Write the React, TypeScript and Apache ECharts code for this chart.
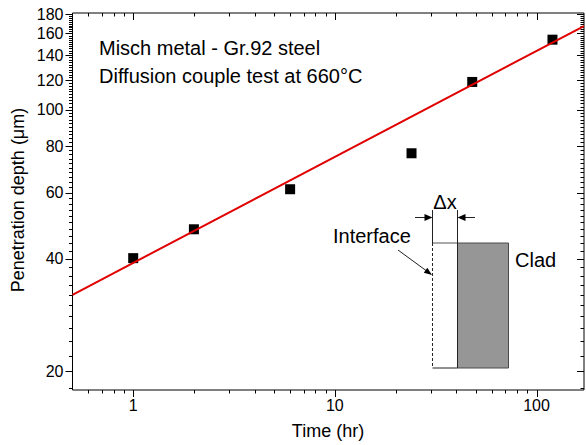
import { useEffect, useRef } from "react";
import * as echarts from "echarts";

// ---- data ----
const timeHr = [1, 2, 6, 24, 48, 120];
const depthUm = [40.1, 47.9, 61.3, 76.5, 118.7, 154];
const fitTime = [0.5, 172];
const fitDepth = [32, 167.5];

// ---- axis specs ----
const xRange = [0.5, 172];
const yRange = [17.8, 181.5];
const xMajorTicks = [1, 10, 100];
const xMajorLabels = ["1", "10", "100"];
const xMinorTicks = [0.6, 0.7, 0.8, 0.9, 2, 3, 4, 5, 6, 7, 8, 9, 20, 30, 40, 50, 60, 70, 80, 90];
const yMajorTicks = [20, 40, 60, 80, 100, 120, 140, 160, 180];
const yMajorLabels = ["20", "40", "60", "80", "100", "120", "140", "160", "180"];
const yMinorStep = 2;

const FONT = "'Liberation Sans', Arial, sans-serif";

export default function App() {
  const ref = useRef<HTMLDivElement>(null);
  useEffect(() => {
    document.body.style.margin = "0";
    const el = ref.current!;
    const chart = echarts.init(el, null, { renderer: "svg" });
    const base: any = {
      animation: false,
      backgroundColor: "#fff",
      grid: {
        left: 72.5,
        top: 13,
        right: 2,
        bottom: 55,
        show: true,
        borderColor: "#000",
        borderWidth: 1,
        backgroundColor: "transparent",
      },
      xAxis: {
        type: "log",
        min: xRange[0],
        max: xRange[1],
        axisLine: { show: false },
        axisTick: { show: false },
        axisLabel: { show: false },
        splitLine: { show: false },
        minorTick: { show: false },
      },
      yAxis: {
        type: "log",
        min: yRange[0],
        max: yRange[1],
        axisLine: { show: false },
        axisTick: { show: false },
        axisLabel: { show: false },
        splitLine: { show: false },
        minorTick: { show: false },
      },
      series: [
        {
          type: "scatter",
          data: timeHr.map((t, i) => [t, depthUm[i]]),
          symbol: "rect",
          symbolSize: 10,
          itemStyle: { color: "#000", opacity: 1 },
          z: 2,
        },
        {
          type: "line",
          data: fitTime.map((t, i) => [t, fitDepth[i]]),
          showSymbol: false,
          symbol: "none",
          lineStyle: { color: "#e00000", width: 2 },
          z: 3,
        },
      ],
    };
    chart.setOption(base);

    const px = (v: number) => chart.convertToPixel({ xAxisIndex: 0 }, v) as number;
    const py = (v: number) => chart.convertToPixel({ yAxisIndex: 0 }, v) as number;
    const L = px(xRange[0]);
    const R = px(xRange[1]);
    const T = py(yRange[1]);
    const B = py(yRange[0]);

    const els: any[] = [];
    const stroke = { stroke: "#000", lineWidth: 1 };
    const major = 7;
    const minor = 3.5;
    const addX = (v: number, len: number) => {
      const x = Math.round(px(v)) + 0.5;
      els.push({ type: "line", shape: { x1: x, y1: B, x2: x, y2: B + len }, style: stroke, silent: true });
      els.push({ type: "line", shape: { x1: x, y1: T, x2: x, y2: T + len }, style: stroke, silent: true });
    };
    const addY = (v: number, len: number) => {
      const y = Math.round(py(v)) + 0.5;
      els.push({ type: "line", shape: { x1: L - len, y1: y, x2: L, y2: y }, style: stroke, silent: true });
      els.push({ type: "line", shape: { x1: R - len, y1: y, x2: R, y2: y }, style: stroke, silent: true });
    };
    xMajorTicks.forEach((v) => addX(v, major));
    xMinorTicks.forEach((v) => addX(v, minor));
    for (let v = Math.ceil(yRange[0] / yMinorStep) * yMinorStep; v <= yRange[1]; v += yMinorStep) {
      if (yMajorTicks.indexOf(v) >= 0) continue;
      addY(v, minor);
    }
    yMajorTicks.forEach((v) => addY(v, major));

    const tickFont = { fontFamily: FONT, fontSize: 16, fill: "#000" };
    xMajorTicks.forEach((v, i) => {
      els.push({
        type: "text",
        x: px(v),
        y: B + 15,
        style: { ...tickFont, text: xMajorLabels[i], align: "center", verticalAlign: "middle" },
      });
    });
    yMajorTicks.forEach((v, i) => {
      els.push({
        type: "text",
        x: L - 9,
        y: py(v),
        style: { ...tickFont, text: yMajorLabels[i], align: "right", verticalAlign: "middle" },
      });
    });

    // axis titles
    els.push({
      type: "text",
      x: 328,
      y: 431,
      style: { text: "Time (hr)", fontFamily: FONT, fontSize: 18, fill: "#000", align: "center", verticalAlign: "middle" },
    });
    els.push({
      type: "text",
      x: 18,
      y: 200,
      rotation: Math.PI / 2,
      style: {
        text: "Penetration depth (\u03bcm)",
        fontFamily: FONT,
        fontSize: 18,
        fill: "#000",
        align: "center",
        verticalAlign: "middle",
      },
    });

    // annotations
    const annFont = { fontFamily: FONT, fontSize: 20, fill: "#000" };
    els.push({ type: "text", x: 99, y: 48, style: { ...annFont, text: "Misch metal - Gr.92 steel", verticalAlign: "middle" } });
    els.push({
      type: "text",
      x: 99,
      y: 76,
      style: { ...annFont, text: "Diffusion couple test at 660\u00b0C", verticalAlign: "middle" },
    });

    // inset schematic
    const dk = { stroke: "#222", lineWidth: 1 };
    els.push({ type: "rect", shape: { x: 457.5, y: 243, width: 51, height: 125 }, style: { fill: "#969696", stroke: "#4a4a4a", lineWidth: 1 } });
    els.push({ type: "line", shape: { x1: 432.5, y1: 243, x2: 457.5, y2: 243 }, style: { stroke: "#555", lineWidth: 1 } });
    els.push({ type: "line", shape: { x1: 432.5, y1: 368, x2: 457.5, y2: 368 }, style: dk });
    els.push({ type: "line", shape: { x1: 432.5, y1: 210, x2: 432.5, y2: 243 }, style: dk });
    els.push({ type: "line", shape: { x1: 432.5, y1: 243, x2: 432.5, y2: 368 }, style: { ...dk, lineDash: [3, 2] } });
    els.push({ type: "line", shape: { x1: 457.5, y1: 210, x2: 457.5, y2: 368 }, style: dk });
    // Δx arrows
    els.push({ type: "line", shape: { x1: 415, y1: 217.5, x2: 427, y2: 217.5 }, style: dk });
    els.push({ type: "polygon", shape: { points: [[432.5, 217.5], [424.5, 214], [424.5, 221]] }, style: { fill: "#000" } });
    els.push({ type: "line", shape: { x1: 475, y1: 217.5, x2: 463, y2: 217.5 }, style: dk });
    els.push({ type: "polygon", shape: { points: [[457.5, 217.5], [465.5, 214], [465.5, 221]] }, style: { fill: "#000" } });
    els.push({ type: "text", x: 445, y: 202, style: { ...annFont, text: "\u0394x", align: "center", verticalAlign: "middle" } });
    // Interface
    els.push({ type: "text", x: 333, y: 236, style: { ...annFont, text: "Interface", verticalAlign: "middle" } });
    els.push({ type: "line", shape: { x1: 398, y1: 250, x2: 426, y2: 270.5 }, style: dk });
    els.push({ type: "polygon", shape: { points: [[432, 275], [423.8, 272.7], [427.3, 267.8]] }, style: { fill: "#000" } });
    // Clad
    els.push({ type: "text", x: 515, y: 260, style: { ...annFont, text: "Clad", verticalAlign: "middle" } });

    chart.setOption({ graphic: { elements: els } });
    return () => chart.dispose();
  }, []);
  return <div ref={ref} style={{ position: "fixed", left: 0, top: 0, width: 586, height: 445 }} />;
}
